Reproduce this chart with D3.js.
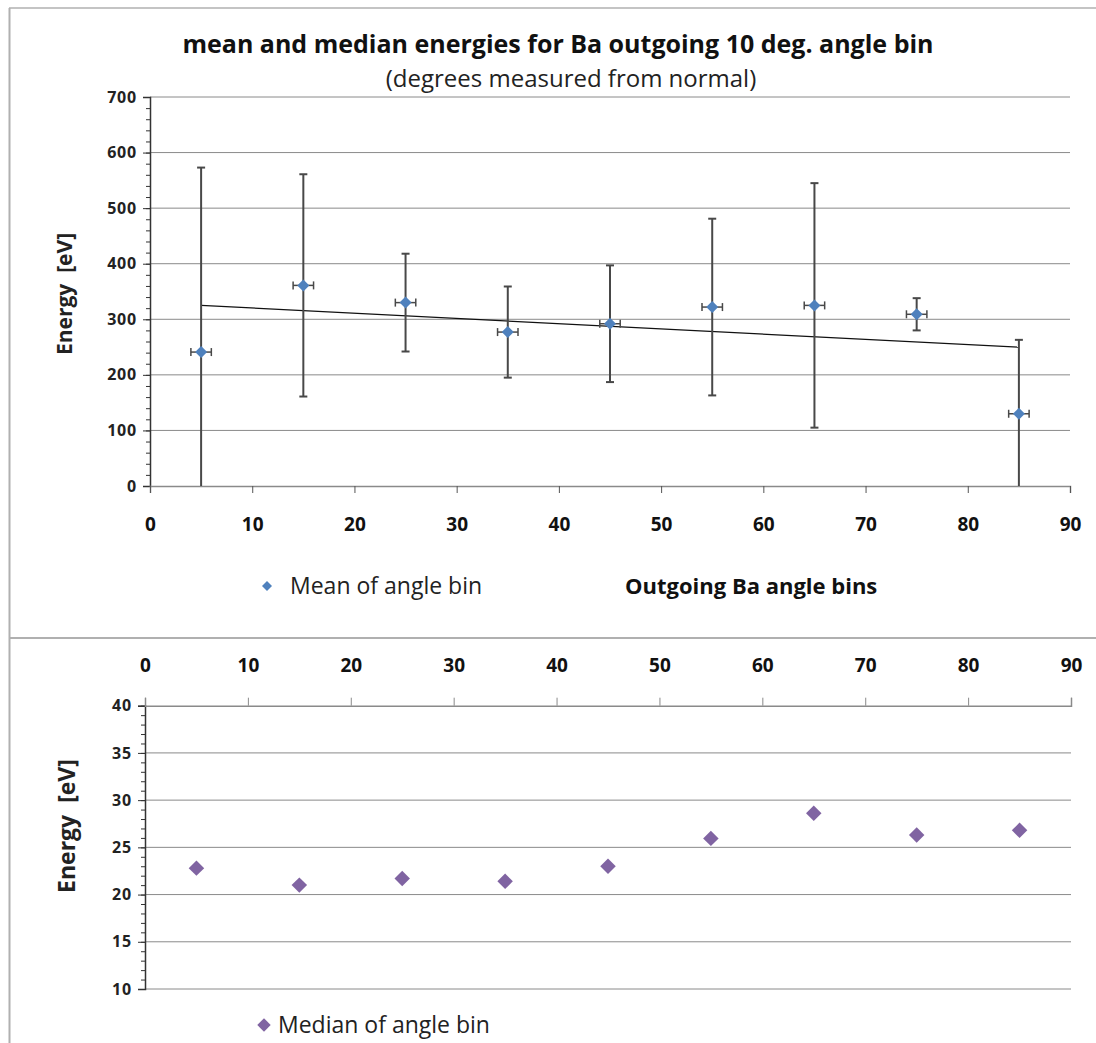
<!DOCTYPE html>
<html>
<head>
<meta charset="utf-8">
<script src="https://cdn.jsdelivr.net/npm/d3@7"></script>
<style>
  body { margin: 0; background: #fff; }
  svg { display: block; font-family: "Open Sans", sans-serif; }
</style>
</head>
<body>
<svg id="chart" width="1096" height="1043"></svg>
<script>
// angle bins (deg from normal)
const angles = [5, 15, 25, 35, 45, 55, 65, 75, 85]
const meanEnergy = [241, 361, 330, 277, 292, 322, 325, 309, 130]
const meanError = [332, 200, 88, 82, 105, 159, 220, 29, 133]
const angleError = 1
const medianEnergy = [22.8, 21.0, 21.7, 21.4, 23.0, 25.95, 28.6, 26.3, 26.8]

const xTicks = [0, 10, 20, 30, 40, 50, 60, 70, 80, 90]
const meanTicks = [0, 100, 200, 300, 400, 500, 600, 700]
const medianTicks = [10, 15, 20, 25, 30, 35, 40]

const titleText = 'mean and median energies for Ba outgoing 10 deg. angle bin'
const subtitleText = '(degrees measured from normal)'
const yTitle = 'Energy  [eV]'
const xTitle = 'Outgoing Ba angle bins'
const meanLabel = 'Mean of angle bin'
const medianLabel = 'Median of angle bin'

const gridColor = '#8a8a8a'
const frameColor = '#b0b0b0'
const meanColor = '#4f81bd'
const medianColor = '#8064a2'
const font = '"Open Sans", sans-serif'

const svg = d3.select('#chart')

const meanData = angles.map((a, i) => ({ x: a, y: meanEnergy[i], err: meanError[i] }))
const medianData = angles.map((a, i) => ({ x: a, y: medianEnergy[i] }))

// outer frame + divider between the two charts
svg.append('line').attr('x1', 9).attr('x2', 1096).attr('y1', 8).attr('y2', 8)
    .attr('stroke', frameColor).attr('stroke-width', 1.5)
svg.append('line').attr('x1', 9.5).attr('x2', 9.5).attr('y1', 8).attr('y2', 1043)
    .attr('stroke', frameColor).attr('stroke-width', 2)
svg.append('line').attr('x1', 9).attr('x2', 1096).attr('y1', 638).attr('y2', 638)
    .attr('stroke', frameColor).attr('stroke-width', 2)

const diamond = size => d3.symbol().type(d3.symbolSquare).size(size)

// ---------------- top chart: mean ----------------
const x1 = d3.scaleLinear().domain([0, 90]).range([150, 1070])
const y1 = d3.scaleLinear().domain([0, 700]).range([486, 97]).clamp(true)

svg.append('text')
    .attr('x', 558).attr('y', 53)
    .attr('text-anchor', 'middle')
    .attr('font-size', 25).attr('font-weight', 'bold').attr('fill', '#111')
    .text(titleText)
svg.append('text')
    .attr('x', 571).attr('y', 87)
    .attr('text-anchor', 'middle')
    .attr('font-size', 24).attr('fill', '#222')
    .text(subtitleText)

// gridlines
svg.append('g').selectAll('line')
    .data(meanTicks.slice(1))
    .join('line')
        .attr('x1', x1(0)).attr('x2', x1(90))
        .attr('y1', d => y1(d)).attr('y2', d => y1(d))
        .attr('stroke', gridColor).attr('stroke-width', 1)

// minor y ticks
svg.append('g')
    .attr('transform', `translate(${x1(0)},0)`)
    .call(d3.axisLeft(y1).tickValues(d3.range(0, 701, 20)).tickSize(4).tickFormat(''))
    .call(g => g.select('.domain').remove())
    .call(g => g.selectAll('line').attr('stroke', '#333'))

const yAxis1 = svg.append('g')
    .attr('transform', `translate(${x1(0)},0)`)
    .call(d3.axisLeft(y1).tickValues(meanTicks).tickSize(7).tickPadding(6).tickFormat(d3.format('d')))
yAxis1.select('.domain').attr('stroke', '#333').attr('stroke-width', 1.5)
yAxis1.selectAll('line').attr('stroke', '#333')
yAxis1.selectAll('text').attr('font-family', font).attr('font-size', 16)
    .attr('letter-spacing', 0.8).attr('font-weight', 'bold').attr('fill', '#222')

const xAxis1 = svg.append('g')
    .attr('transform', `translate(0,${y1(0)})`)
    .call(d3.axisBottom(x1).tickValues(xTicks).tickSize(7).tickPadding(25))
xAxis1.select('.domain').attr('stroke', gridColor).attr('stroke-width', 1.5)
xAxis1.selectAll('line').attr('stroke', '#555')
xAxis1.selectAll('text').attr('font-family', font).attr('font-size', 19)
    .attr('font-weight', 'bold').attr('fill', '#111')

svg.append('text')
    .attr('transform', `translate(72,294) rotate(-90)`)
    .attr('text-anchor', 'middle')
    .attr('font-size', 21).attr('font-weight', 'bold').attr('fill', '#222')
    .style('white-space', 'pre')
    .text(yTitle)

// linear trend of the means
const xMean = d3.mean(meanData, d => d.x)
const yMean = d3.mean(meanData, d => d.y)
const slope = d3.sum(meanData, d => (d.x - xMean) * (d.y - yMean)) / d3.sum(meanData, d => (d.x - xMean) ** 2)
const trend = x => yMean + slope * (x - xMean)
const xExtent = d3.extent(angles)

svg.append('line')
    .attr('x1', x1(xExtent[0])).attr('y1', y1(trend(xExtent[0])))
    .attr('x2', x1(xExtent[1])).attr('y2', y1(trend(xExtent[1])))
    .attr('stroke', '#111').attr('stroke-width', 1.3)

// error bars
const bars = svg.append('g').selectAll('g')
    .data(meanData)
    .join('g')
        .attr('stroke', '#484848').attr('stroke-width', 2)

bars.append('line')
    .attr('x1', d => x1(d.x)).attr('x2', d => x1(d.x))
    .attr('y1', d => y1(d.y + d.err)).attr('y2', d => y1(d.y - d.err))
bars.append('line')
    .attr('x1', d => x1(d.x) - 4).attr('x2', d => x1(d.x) + 4)
    .attr('y1', d => y1(d.y + d.err)).attr('y2', d => y1(d.y + d.err))
bars.filter(d => d.y - d.err > 0).append('line')
    .attr('x1', d => x1(d.x) - 4).attr('x2', d => x1(d.x) + 4)
    .attr('y1', d => y1(d.y - d.err)).attr('y2', d => y1(d.y - d.err))
bars.append('line')
    .attr('x1', d => x1(d.x - angleError)).attr('x2', d => x1(d.x + angleError))
    .attr('y1', d => y1(d.y)).attr('y2', d => y1(d.y))
    .attr('stroke-width', 1.5)
bars.append('line')
    .attr('x1', d => x1(d.x - angleError)).attr('x2', d => x1(d.x - angleError))
    .attr('y1', d => y1(d.y) - 4).attr('y2', d => y1(d.y) + 4)
    .attr('stroke-width', 1.5)
bars.append('line')
    .attr('x1', d => x1(d.x + angleError)).attr('x2', d => x1(d.x + angleError))
    .attr('y1', d => y1(d.y) - 4).attr('y2', d => y1(d.y) + 4)
    .attr('stroke-width', 1.5)

svg.append('g').selectAll('path')
    .data(meanData)
    .join('path')
        .attr('d', diamond(72))
        .attr('transform', d => `translate(${x1(d.x)},${y1(d.y)}) rotate(45)`)
        .attr('fill', meanColor)

// legend + x title
svg.append('path')
    .attr('d', diamond(50))
    .attr('transform', 'translate(267,586) rotate(45)')
    .attr('fill', meanColor)
svg.append('text')
    .attr('x', 290).attr('y', 594)
    .attr('font-size', 23).attr('fill', '#222')
    .text(meanLabel)
svg.append('text')
    .attr('x', 625).attr('y', 594)
    .attr('font-size', 22).attr('font-weight', 'bold').attr('fill', '#111')
    .text(xTitle)

// ---------------- bottom chart: median ----------------
const x2 = d3.scaleLinear().domain([0, 90]).range([145, 1071])
const y2 = d3.scaleLinear().domain([10, 40]).range([989, 705.7])

svg.append('g').selectAll('line')
    .data(medianTicks.slice(0, -1))
    .join('line')
        .attr('x1', x2(0)).attr('x2', x2(90))
        .attr('y1', d => y2(d)).attr('y2', d => y2(d))
        .attr('stroke', gridColor).attr('stroke-width', 1)

svg.append('g')
    .attr('transform', `translate(${x2(0)},0)`)
    .call(d3.axisLeft(y2).tickValues(d3.range(10, 40.5, 1)).tickSize(4).tickFormat(''))
    .call(g => g.select('.domain').remove())
    .call(g => g.selectAll('line').attr('stroke', '#333'))

const yAxis2 = svg.append('g')
    .attr('transform', `translate(${x2(0)},0)`)
    .call(d3.axisLeft(y2).tickValues(medianTicks).tickSize(7).tickPadding(6).tickFormat(d3.format('d')))
yAxis2.select('.domain').attr('stroke', '#333').attr('stroke-width', 1.5)
yAxis2.selectAll('line').attr('stroke', '#333')
yAxis2.selectAll('text').attr('font-family', font).attr('font-size', 16)
    .attr('letter-spacing', 0.8).attr('font-weight', 'bold').attr('fill', '#222')

const xAxis2 = svg.append('g')
    .attr('transform', `translate(0,${y2(40)})`)
    .call(d3.axisTop(x2).tickValues(xTicks).tickSize(8).tickPadding(26))
xAxis2.select('.domain').attr('stroke', gridColor).attr('stroke-width', 1.5)
xAxis2.selectAll('line').attr('stroke', gridColor)
xAxis2.selectAll('text').attr('font-family', font).attr('font-size', 19)
    .attr('font-weight', 'bold').attr('fill', '#111')

svg.append('text')
    .attr('transform', `translate(75,826) rotate(-90)`)
    .attr('text-anchor', 'middle')
    .attr('font-size', 23).attr('font-weight', 'bold').attr('fill', '#222')
    .style('white-space', 'pre')
    .text(yTitle)

svg.append('g').selectAll('path')
    .data(medianData)
    .join('path')
        .attr('d', diamond(120))
        .attr('transform', d => `translate(${x2(d.x)},${y2(d.y)}) rotate(45)`)
        .attr('fill', medianColor)

svg.append('path')
    .attr('d', diamond(90))
    .attr('transform', 'translate(264,1025) rotate(45)')
    .attr('fill', medianColor)
svg.append('text')
    .attr('x', 278).attr('y', 1033)
    .attr('font-size', 23).attr('fill', '#222')
    .text(medianLabel)
</script>
</body>
</html>
